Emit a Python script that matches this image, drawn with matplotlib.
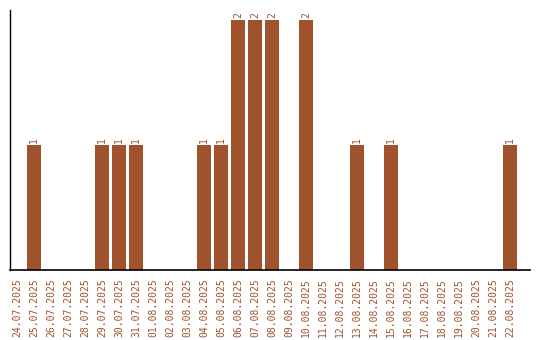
import matplotlib
matplotlib.use('Agg')
import matplotlib.pyplot as plt

dates = ['24.07.2025', '25.07.2025', '26.07.2025', '27.07.2025', '28.07.2025',
         '29.07.2025', '30.07.2025', '31.07.2025', '01.08.2025', '02.08.2025',
         '03.08.2025', '04.08.2025', '05.08.2025', '06.08.2025', '07.08.2025',
         '08.08.2025', '09.08.2025', '10.08.2025', '11.08.2025', '12.08.2025',
         '13.08.2025', '14.08.2025', '15.08.2025', '16.08.2025', '17.08.2025',
         '18.08.2025', '19.08.2025', '20.08.2025', '21.08.2025', '22.08.2025']
counts = [0, 1, 0, 0, 0, 1, 1, 1, 0, 0,
          0, 1, 1, 2, 2, 2, 0, 2, 0, 0,
          1, 0, 1, 0, 0, 0, 0, 0, 0, 1]

color = '#a0522d'
plt.rcParams['font.family'] = 'DejaVu Sans Mono'

fig = plt.figure(figsize=(5.4, 3.4), dpi=100)
ax = fig.add_axes([10 / 540, 70 / 340, 520 / 540, 260 / 340])

x = list(range(len(dates)))
ax.bar(x, counts, width=0.82, color=color)
for xi, c in zip(x, counts):
    if c > 0:
        ax.text(xi, c + 0.02, str(c), rotation=90, ha='center', va='bottom',
                fontsize=7, color=color)

ax.set_xlim(-0.41, 29 + 1.18)
ax.set_ylim(0, 2.08)
ax.set_xticks(x)
ax.set_xticklabels(dates, rotation=90, fontsize=7, color=color)
ax.set_yticks([])
ax.tick_params(axis='x', length=0, pad=6)
for s in ['top', 'right']:
    ax.spines[s].set_visible(False)
ax.spines['left'].set_linewidth(1)
ax.spines['bottom'].set_linewidth(1.2)

fig.savefig('out.png', dpi=100)
